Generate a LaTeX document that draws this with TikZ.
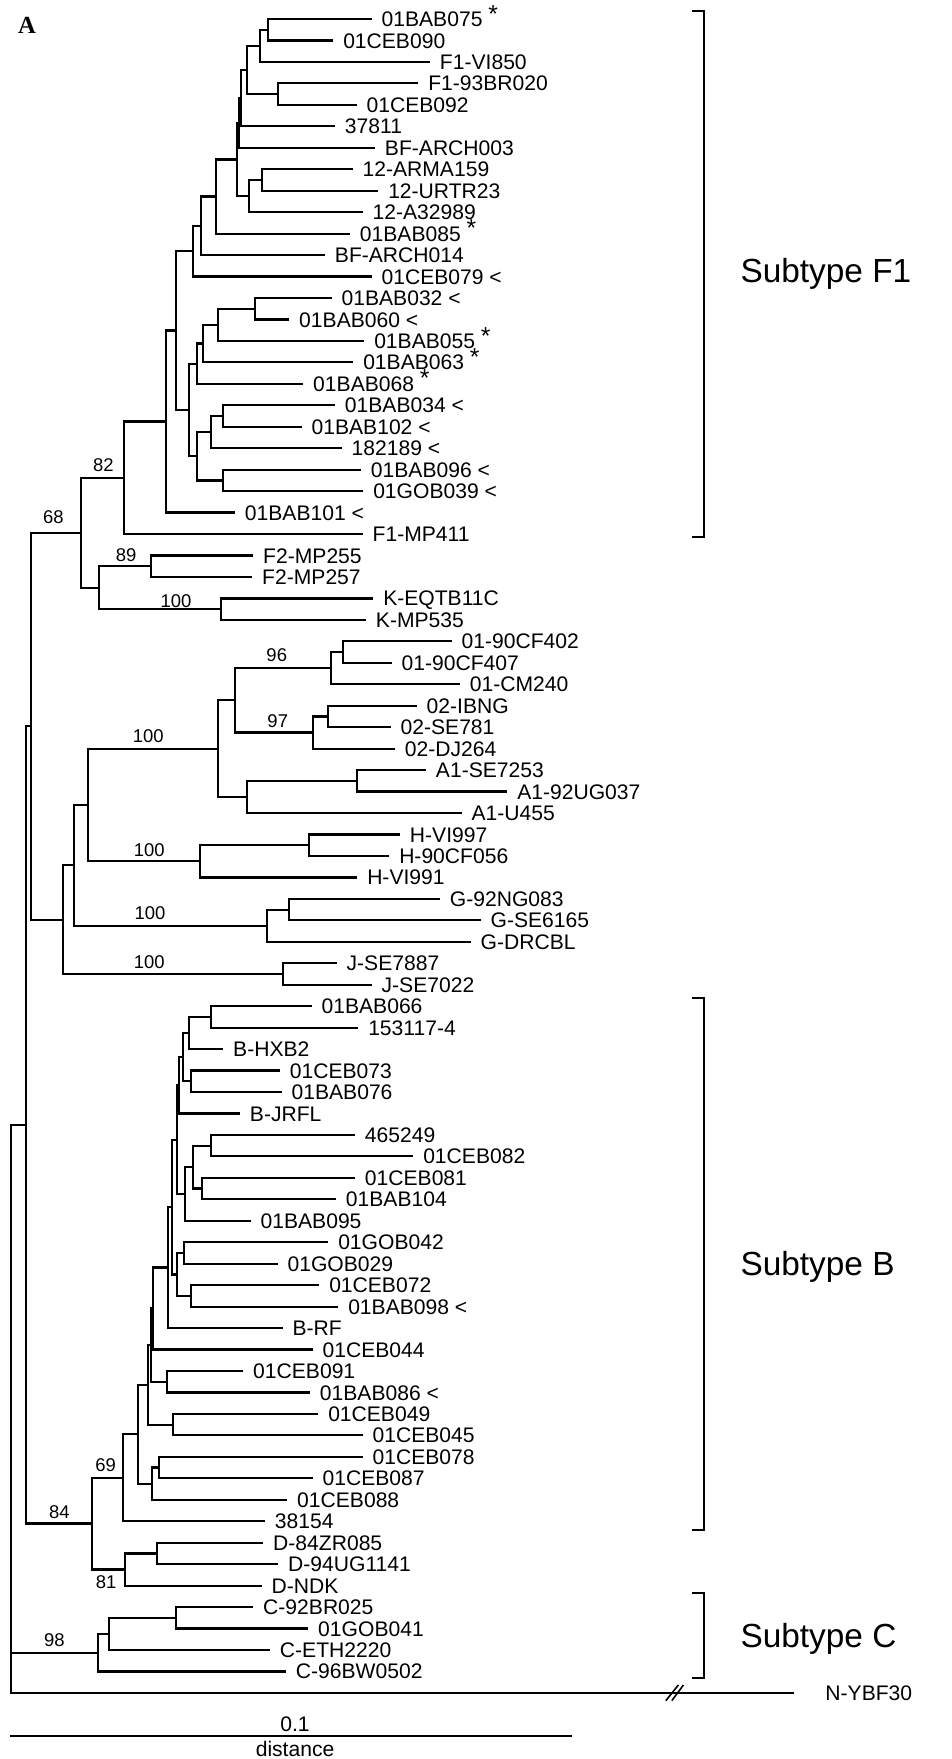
\documentclass[tikz,border=0pt]{standalone}
\usepackage{fontspec}
\setmainfont{Liberation Sans}
\newfontfamily\panelfont{Liberation Serif}
\newcommand{\astmark}{~\smash{\raisebox{2.5pt}{\fontsize{14}{14}\selectfont *}}}
\newcommand{\ltmark}{~<}

\begin{document}
\begin{tikzpicture}[x=0.02cm, y=-0.4292cm, line width=1.25pt,
    leaf/.style={anchor=west, inner xsep=5pt, inner ysep=0pt,
      text height=8.6pt, text depth=0pt, font=\fontsize{12}{14}\selectfont},
    boot/.style={inner sep=0pt, font=\fontsize{10.5}{12}\selectfont},
    sublabel/.style={anchor=west, inner sep=0pt, text height=13.6pt,
      text depth=0pt, font=\fontsize{19}{22}\selectfont},
    bracket/.style={line width=1.1pt}
    ]
\useasboundingbox (0,-0.8854) rectangle (951,81.081);

\node[font=\panelfont\bfseries\fontsize{14}{16}\selectfont] (panel) at (27,0.28) {A};

% leaves, subtype F1
\node[leaf] (l0) at (371.7,0) {01BAB075\astmark};
\node[leaf] (l1) at (333.3,1) {01CEB090};
\node[leaf] (l2) at (430,2) {F1-VI850};
\node[leaf] (l3) at (418.3,3) {F1-93BR020};
\node[leaf] (l4) at (356.7,4) {01CEB092};
\node[leaf] (l5) at (335,5) {37811};
\node[leaf] (l6) at (375,6) {BF-ARCH003};
\node[leaf] (l7) at (352.7,7) {12-ARMA159};
\node[leaf] (l8) at (378.3,8) {12-URTR23};
\node[leaf] (l9) at (362.7,9) {12-A32989};
\node[leaf] (l10) at (350,10) {01BAB085\astmark};
\node[leaf] (l11) at (325,11) {BF-ARCH014};
\node[leaf] (l12) at (371.7,12) {01CEB079\ltmark};
\node[leaf] (l13) at (331.7,13) {01BAB032\ltmark};
\node[leaf] (l14) at (289.3,14) {01BAB060\ltmark};
\node[leaf] (l15) at (364.3,15) {01BAB055\astmark};
\node[leaf] (l16) at (353.3,16) {01BAB063\astmark};
\node[leaf] (l17) at (303.3,17) {01BAB068\astmark};
\node[leaf] (l18) at (335,18) {01BAB034\ltmark};
\node[leaf] (l19) at (301.7,19) {01BAB102\ltmark};
\node[leaf] (l20) at (341.7,20) {182189\ltmark};
\node[leaf] (l21) at (361,21) {01BAB096\ltmark};
\node[leaf] (l22) at (363.3,22) {01GOB039\ltmark};
\node[leaf] (l23) at (235,23) {01BAB101\ltmark};
\node[leaf] (l24) at (362.7,24) {F1-MP411};
% leaves, other subtypes
\node[leaf] (l25) at (253.3,25) {F2-MP255};
\node[leaf] (l26) at (252.3,26) {F2-MP257};
\node[leaf] (l27) at (373.3,27) {K-EQTB11C};
\node[leaf] (l28) at (366,28) {K-MP535};
\node[leaf] (l29) at (451.7,29) {01-90CF402};
\node[leaf] (l30) at (391.7,30) {01-90CF407};
\node[leaf] (l31) at (460,31) {01-CM240};
\node[leaf] (l32) at (416.7,32) {02-IBNG};
\node[leaf] (l33) at (390.7,33) {02-SE781};
\node[leaf] (l34) at (395,34) {02-DJ264};
\node[leaf] (l35) at (426,35) {A1-SE7253};
\node[leaf] (l36) at (507.3,36) {A1-92UG037};
\node[leaf] (l37) at (461.7,37) {A1-U455};
\node[leaf] (l38) at (400,38) {H-VI997};
\node[leaf] (l39) at (389.3,39) {H-90CF056};
\node[leaf] (l40) at (357.3,40) {H-VI991};
\node[leaf] (l41) at (440,41) {G-92NG083};
\node[leaf] (l42) at (480.7,42) {G-SE6165};
\node[leaf] (l43) at (470.7,43) {G-DRCBL};
\node[leaf] (l44) at (336.7,44) {J-SE7887};
\node[leaf] (l45) at (371.7,45) {J-SE7022};
% leaves, subtype B
\node[leaf] (l46) at (311.7,46) {01BAB066};
\node[leaf] (l47) at (358.3,47) {153117-4};
\node[leaf] (l48) at (223.3,48) {B-HXB2};
\node[leaf] (l49) at (280,49) {01CEB073};
\node[leaf] (l50) at (281.7,50) {01BAB076};
\node[leaf] (l51) at (240,51) {B-JRFL};
\node[leaf] (l52) at (355,52) {465249};
\node[leaf] (l53) at (413.3,53) {01CEB082};
\node[leaf] (l54) at (355,54) {01CEB081};
\node[leaf] (l55) at (336,55) {01BAB104};
\node[leaf] (l56) at (250.7,56) {01BAB095};
\node[leaf] (l57) at (328.3,57) {01GOB042};
\node[leaf] (l58) at (277.7,58) {01GOB029};
\node[leaf] (l59) at (319.3,59) {01CEB072};
\node[leaf] (l60) at (338.3,60) {01BAB098\ltmark};
\node[leaf] (l61) at (282.7,61) {B-RF};
\node[leaf] (l62) at (312.7,62) {01CEB044};
\node[leaf] (l63) at (243.3,63) {01CEB091};
\node[leaf] (l64) at (310,64) {01BAB086\ltmark};
\node[leaf] (l65) at (318.3,65) {01CEB049};
\node[leaf] (l66) at (362.7,66) {01CEB045};
\node[leaf] (l67) at (362.7,67) {01CEB078};
\node[leaf] (l68) at (312.7,68) {01CEB087};
\node[leaf] (l69) at (287.3,69) {01CEB088};
\node[leaf] (l70) at (265,70) {38154};
% leaves, D, C and outgroup
\node[leaf] (l71) at (263.3,71) {D-84ZR085};
\node[leaf] (l72) at (278.3,72) {D-94UG1141};
\node[leaf] (l73) at (261.7,73) {D-NDK};
\node[leaf] (l74) at (253.3,74) {C-92BR025};
\node[leaf] (l75) at (308.3,75) {01GOB041};
\node[leaf] (l76) at (270,76) {C-ETH2220};
\node[leaf] (l77) at (286,77) {C-96BW0502};
\node[leaf, inner xsep=17pt] (lN) at (794.3,78) {N-YBF30};

% inner nodes
\coordinate (a1) at (267.7,0.5);
\coordinate (a2) at (260,1.25);
\coordinate (a3) at (278.3,3.5);
\coordinate (a4) at (247,2.375);
\coordinate (a5) at (241,3.6875);
\coordinate (a6) at (261.7,7.5);
\coordinate (a7) at (249.3,8.25);
\coordinate (a8a) at (238.7,4.844);
\coordinate (a8) at (236.7,6.547);
\coordinate (a9) at (216,8.273);
\coordinate (a10) at (201,9.637);
\coordinate (a11) at (192.7,10.818);
\coordinate (b1) at (255,13.5);
\coordinate (b2) at (217.7,14.25);
\coordinate (b3) at (203.3,15.125);
\coordinate (b4) at (196.7,16.0625);
\coordinate (b5) at (223.3,18.5);
\coordinate (b6) at (211,19.25);
\coordinate (b7) at (223.3,21.5);
\coordinate (b8) at (196.7,20.375);
\coordinate (b9) at (189,18.219);
\coordinate (a12) at (175.7,14.518);
\coordinate (a13) at (165.7,18.759);
\coordinate (k82) at (124.3,21.38);
\coordinate (f2) at (151,25.5);
\coordinate (kk) at (221,27.5);
\coordinate (fk) at (99,26.5);
\coordinate (m68) at (81,23.94);
\coordinate (c1) at (342.7,29.5);
\coordinate (c2) at (331,30.25);
\coordinate (c3) at (328.3,32.5);
\coordinate (c4) at (313.3,33.25);
\coordinate (c5) at (235,31.75);
\coordinate (c6) at (356.7,35.5);
\coordinate (c7) at (247.3,36.25);
\coordinate (c8) at (217.7,34);
\coordinate (h1) at (309.3,38.5);
\coordinate (h2) at (200,39.25);
\coordinate (p1) at (88.3,36.625);
\coordinate (g1) at (289.3,41.5);
\coordinate (g2) at (266.7,42.25);
\coordinate (p2) at (74,39.4375);
\coordinate (j1) at (283.3,44.5);
\coordinate (p3) at (63.3,41.97);
\coordinate (p4) at (30.7,32.955);
\coordinate (bb1) at (210.7,46.5);
\coordinate (bb2) at (189,47.25);
\coordinate (bb3) at (190.7,49.5);
\coordinate (bb4) at (182.7,48.375);
\coordinate (bb5) at (179,49.6875);
\coordinate (bb6) at (210.7,52.5);
\coordinate (bb7) at (201.7,54.5);
\coordinate (bb8) at (192.7,53.5);
\coordinate (bb9) at (185,54.75);
\coordinate (bb10) at (176.7,52.22);
\coordinate (bb11) at (184,57.5);
\coordinate (bb12) at (190.7,59.5);
\coordinate (bb13) at (176.7,58.5);
\coordinate (bb14) at (171.7,55.36);
\coordinate (bb15) at (168,58.18);
\coordinate (bb16) at (153.3,60.09);
\coordinate (bb17) at (167.3,63.5);
\coordinate (bb18) at (151,61.795);
\coordinate (bb19) at (172.7,65.5);
\coordinate (bb20) at (148.3,63.65);
\coordinate (bb21) at (159.3,67.5);
\coordinate (bb22) at (151.7,68.25);
\coordinate (bb23) at (137.7,65.95);
\coordinate (n69) at (123.3,67.975);
\coordinate (d1) at (156.7,71.5);
\coordinate (n81) at (125,72.25);
\coordinate (n84) at (91.7,70.11);
\coordinate (p5) at (26,51.53);
\coordinate (e1) at (176,74.5);
\coordinate (e2) at (109.3,75.25);
\coordinate (n98) at (98.3,76.125);
\coordinate (root) at (11,51.53);

% branches
\draw (l0) -| (a1) |- (l1);
\draw (a1) -| (a2) |- (l2);
\draw (l3) -| (a3) |- (l4);
\draw (a2) -| (a4) |- (a3);
\draw (a4) -| (a5) |- (l5);
\draw (l7) -| (a6) |- (l8);
\draw (a6) -| (a7) |- (l9);
\draw (a5) -| (a8a) |- (l6);
\draw (a8a) -| (a8) |- (a7);
\draw (a8) -| (a9) |- (l10);
\draw (a9) -| (a10) |- (l11);
\draw (a10) -| (a11) |- (l12);
\draw (l13) -| (b1) |- (l14);
\draw (b1) -| (b2) |- (l15);
\draw (b2) -| (b3) |- (l16);
\draw (b3) -| (b4) |- (l17);
\draw (l18) -| (b5) |- (l19);
\draw (b5) -| (b6) |- (l20);
\draw (l21) -| (b7) |- (l22);
\draw (b6) -| (b8) |- (b7);
\draw (b4) -| (b9) |- (b8);
\draw (a11) -| (a12) |- (b9);
\draw (a12) -| (a13) |- (l23);
\draw (a13) -| (k82) |- (l24);
\draw (l25) -| (f2) |- (l26);
\draw (l27) -| (kk) |- (l28);
\draw (f2) -| (fk) |- (kk);
\draw (k82) -| (m68) |- (fk);
\draw (l29) -| (c1) |- (l30);
\draw (c1) -| (c2) |- (l31);
\draw (l32) -| (c3) |- (l33);
\draw (c3) -| (c4) |- (l34);
\draw (c2) -| (c5) |- (c4);
\draw (l35) -| (c6) |- (l36);
\draw (c6) -| (c7) |- (l37);
\draw (c5) -| (c8) |- (c7);
\draw (l38) -| (h1) |- (l39);
\draw (h1) -| (h2) |- (l40);
\draw (c8) -| (p1) |- (h2);
\draw (l41) -| (g1) |- (l42);
\draw (g1) -| (g2) |- (l43);
\draw (p1) -| (p2) |- (g2);
\draw (l44) -| (j1) |- (l45);
\draw (p2) -| (p3) |- (j1);
\draw (m68) -| (p4) |- (p3);
\draw (l46) -| (bb1) |- (l47);
\draw (bb1) -| (bb2) |- (l48);
\draw (l49) -| (bb3) |- (l50);
\draw (bb2) -| (bb4) |- (bb3);
\draw (bb4) -| (bb5) |- (l51);
\draw (l52) -| (bb6) |- (l53);
\draw (l54) -| (bb7) |- (l55);
\draw (bb6) -| (bb8) |- (bb7);
\draw (bb8) -| (bb9) |- (l56);
\draw (bb5) -| (bb10) |- (bb9);
\draw (l57) -| (bb11) |- (l58);
\draw (l59) -| (bb12) |- (l60);
\draw (bb11) -| (bb13) |- (bb12);
\draw (bb10) -| (bb14) |- (bb13);
\draw (bb14) -| (bb15) |- (l61);
\draw (bb15) -| (bb16) |- (l62);
\draw (l63) -| (bb17) |- (l64);
\draw (bb16) -| (bb18) |- (bb17);
\draw (l65) -| (bb19) |- (l66);
\draw (bb18) -| (bb20) |- (bb19);
\draw (l67) -| (bb21) |- (l68);
\draw (bb21) -| (bb22) |- (l69);
\draw (bb20) -| (bb23) |- (bb22);
\draw (bb23) -| (n69) |- (l70);
\draw (l71) -| (d1) |- (l72);
\draw (d1) -| (n81) |- (l73);
\draw (n69) -| (n84) |- (n81);
\draw (p4) -| (p5) |- (n84);
\draw (l74) -| (e1) |- (l75);
\draw (e1) -| (e2) |- (l76);
\draw (e2) -| (n98) |- (l77);
\draw (p5) -| (root) |- (lN);
\draw (root |- n98) -- (n98);

% break on the outgroup branch
\draw[line width=0.9pt] (665.7,78.36) -- (678.3,77.63);
\draw[line width=0.9pt] (671.7,78.36) -- (683.3,77.63);

% bootstrap values
\node[boot] (bs82) at (103.3,20.78) {82};
\node[boot] (bs68) at (53.3,23.19) {68};
\node[boot] (bs89) at (126,24.98) {89};
\node[boot] (bsK) at (176,27.11) {100};
\node[boot] (bs96) at (276.7,29.64) {96};
\node[boot] (bs97) at (277.7,32.74) {97};
\node[boot] (bsA) at (148.3,33.41) {100};
\node[boot] (bsH) at (149.3,38.72) {100};
\node[boot] (bsG) at (150,41.65) {100};
\node[boot] (bsJ) at (149.3,43.97) {100};
\node[boot] (bs69) at (105.7,67.38) {69};
\node[boot] (bs84) at (59.3,69.58) {84};
\node[boot] (bs81) at (106,72.85) {81};
\node[boot] (bs98) at (54.3,75.54) {98};

% subtype brackets
\draw[bracket] (691.7,-0.373) -- (704.3,-0.373) -- (704.3,24.15) -- (691.7,24.15);
\draw[bracket] (691.7,45.63) -- (704.3,45.63) -- (704.3,70.41) -- (691.7,70.41);
\draw[bracket] (691.7,73.36) -- (704.3,73.36) -- (704.3,77.29) -- (691.7,77.29);
\node[sublabel] (sF1) at (739.3,11.70) {Subtype F1};
\node[sublabel] (sB) at (739.3,58.01) {Subtype B};
\node[sublabel] (sC) at (739.3,75.33) {Subtype C};

% scale bar
\coordinate (s0) at (10,80);
\coordinate (s1) at (571.7,80);
\draw (s0) -- (s1);
\node[anchor=south, inner ysep=1.5pt, font=\fontsize{12}{14}\selectfont] (sval) at (295,80) {0.1};
\node[anchor=north, inner ysep=2.5pt, font=\fontsize{12}{14}\selectfont] (sname) at (295,80) {distance};
\end{tikzpicture}
\end{document}
